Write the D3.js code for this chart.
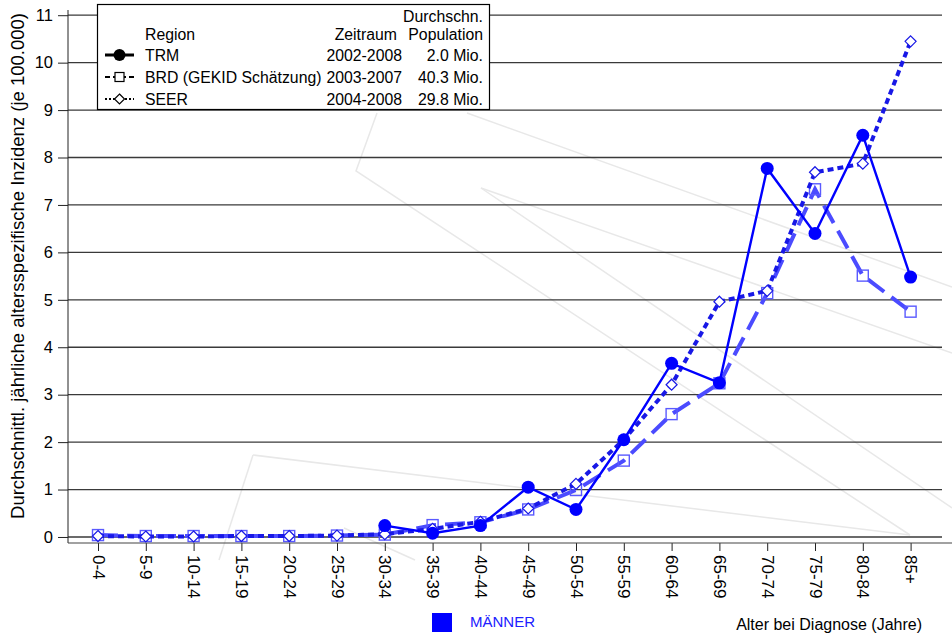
<!DOCTYPE html>
<html>
<head>
<meta charset="utf-8">
<script src="https://cdn.jsdelivr.net/npm/d3@7/dist/d3.min.js"></script>
<style>
  html, body { margin: 0; padding: 0; background: #fff; }
  svg { display: block; font-family: "Liberation Sans", Arial, sans-serif; }
</style>
</head>
<body>
<svg id="chart" width="952" height="636"></svg>
<script>
// Age groups at diagnosis
const ageGroups = ["0-4","5-9","10-14","15-19","20-24","25-29","30-34","35-39","40-44",
                   "45-49","50-54","55-59","60-64","65-69","70-74","75-79","80-84","85+"];

// Average annual age-specific incidence per 100,000 (men)
const trmRates  = [null,null,null,null,null,null,0.24,0.08,0.24,1.05,0.58,2.05,3.66,3.25,7.77,6.40,8.47,5.48];
const brdRates  = [0.04,0.02,0.02,0.02,0.02,0.03,0.05,0.25,0.31,0.58,0.99,1.61,2.59,3.24,5.14,7.33,5.51,4.75];
const seerRates = [0.02,0.01,0.01,0.02,0.02,0.03,0.06,0.17,0.32,0.60,1.12,2.05,3.21,4.96,5.19,7.69,7.87,10.45];

// Legend rows
const legendRegions = ["TRM", "BRD (GEKID Schätzung)", "SEER"];
const legendPeriods = ["2002-2008", "2003-2007", "2004-2008"];
const legendPops    = ["2.0 Mio.", "40.3 Mio.", "29.8 Mio."];

const yTicks = [0,1,2,3,4,5,6,7,8,9,10,11];

const svg = d3.select("#chart");

const x = d3.scalePoint().domain(ageGroups).range([98, 910.6]);
const y = d3.scaleLinear().domain([-0.127, 11.11]).range([543, 10]);

// faint background emblem strokes
const emblem = [
  [[377,113],[356,171],[910,535]],
  [[253,455],[910,535]],
  [[253,455],[219,560]],
  [[344,528],[415,560]],
  [[467,113],[952,287]],
  [[481,188],[952,353]],
  [[481,188],[952,508]]
];
svg.append("g").selectAll("path").data(emblem).join("path")
  .attr("d", d3.line())
  .attr("fill", "none")
  .attr("stroke", "#e8e8e8")
  .attr("stroke-width", 1.5);

// horizontal grid lines
svg.append("g").selectAll("line").data(yTicks).join("line")
  .attr("x1", 68).attr("x2", 942)
  .attr("y1", d => y(d)).attr("y2", d => y(d))
  .attr("stroke", "#3a3a3a").attr("stroke-width", 1.3);

// y axis
const yAxis = svg.append("g").attr("transform", "translate(68,0)")
  .call(d3.axisLeft(y).tickValues(yTicks).tickSize(10).tickPadding(5).tickFormat(d3.format("d")));
yAxis.select(".domain").remove();
yAxis.selectAll(".tick line").attr("stroke", "#222");
yAxis.selectAll("text").attr("font-size", 16.5).attr("fill", "#000")
  .attr("font-family", "Liberation Sans, Arial, sans-serif");
svg.append("line").attr("x1", 68).attr("x2", 68).attr("y1", 10).attr("y2", 543)
  .attr("stroke", "#222").attr("stroke-width", 1);

// x axis
const xAxis = svg.append("g").attr("transform", "translate(0,543)")
  .call(d3.axisBottom(x).tickSize(8).tickSizeOuter(0));
xAxis.select(".domain").remove();
xAxis.selectAll(".tick line").attr("stroke", "#222");
xAxis.selectAll("text")
  .attr("font-size", 17).attr("fill", "#000")
  .attr("font-family", "Liberation Sans, Arial, sans-serif")
  .attr("transform", "rotate(90)")
  .attr("x", 12).attr("y", 0).attr("dy", "0.35em")
  .style("text-anchor", "start");
svg.append("line").attr("x1", 68).attr("x2", 952).attr("y1", 543).attr("y2", 543)
  .attr("stroke", "#444").attr("stroke-width", 1.2);

// axis titles
svg.append("text")
  .attr("transform", "translate(24,266) rotate(-90)")
  .attr("text-anchor", "middle").attr("font-size", 18.5).attr("fill", "#000")
  .text("Durchschnittl. jährliche altersspezifische Inzidenz (je 100.000)");
svg.append("text").attr("x", 922).attr("y", 630).attr("text-anchor", "end")
  .attr("font-size", 16).attr("fill", "#000").text("Alter bei Diagnose (Jahre)");

// sex label
svg.append("rect").attr("x", 432).attr("y", 613).attr("width", 20).attr("height", 19).attr("fill", "#0000ff");
svg.append("text").attr("x", 470).attr("y", 627).attr("font-size", 15).attr("fill", "#2020ff").text("MÄNNER");

// series
const line = d3.line()
  .defined(d => d.v !== null)
  .x(d => x(d.a)).y(d => y(d.v));
const pts = arr => ageGroups.map((a, i) => ({a, v: arr[i]}));

const series = [
  {data: pts(brdRates),  color: "#4b4bff", width: 4,   dash: "20,9", marker: "square"},
  {data: pts(seerRates), color: "#1818e6", width: 4,   dash: "6,4",  marker: "diamond"},
  {data: pts(trmRates),  color: "#0000ff", width: 2.4, dash: null,   marker: "circle"}
];

const g = svg.append("g");
series.forEach(s => {
  g.append("path").datum(s.data)
    .attr("d", line).attr("fill", "none")
    .attr("stroke", s.color).attr("stroke-width", s.width)
    .attr("stroke-dasharray", s.dash);
  const valid = s.data.filter(d => d.v !== null);
  if (s.marker === "circle") {
    g.selectAll(null).data(valid).join("circle")
      .attr("cx", d => x(d.a)).attr("cy", d => y(d.v)).attr("r", 6.5)
      .attr("fill", s.color);
  } else if (s.marker === "square") {
    g.selectAll(null).data(valid).join("rect")
      .attr("x", d => x(d.a) - 5.5).attr("y", d => y(d.v) - 5.5)
      .attr("width", 11).attr("height", 11)
      .attr("fill", "none").attr("stroke", "#5a5aff").attr("stroke-width", 1.4);
  } else {
    g.selectAll(null).data(valid).join("path")
      .attr("d", d => {
        const cx = x(d.a), cy = y(d.v), r = 5.5;
        return `M${cx},${cy - r}L${cx + r},${cy}L${cx},${cy + r}L${cx - r},${cy}Z`;
      })
      .attr("fill", "#fff").attr("stroke", "#1818e6").attr("stroke-width", 1.2);
  }
});

// legend
const lg = svg.append("g");
lg.append("rect").attr("x", 97.5).attr("y", 4.5).attr("width", 392).attr("height", 105)
  .attr("fill", "#fff").attr("stroke", "#000").attr("stroke-width", 1.2);
const fs = 15.8;
lg.append("text").attr("x", 483).attr("y", 22).attr("text-anchor", "end").attr("font-size", fs).text("Durchschn.");
lg.append("text").attr("x", 145).attr("y", 40).attr("font-size", fs).text("Region");
lg.append("text").attr("x", 397).attr("y", 40).attr("text-anchor", "end").attr("font-size", fs).text("Zeitraum");
lg.append("text").attr("x", 483).attr("y", 40).attr("text-anchor", "end").attr("font-size", fs).text("Population");
const rowY = [61, 83, 105];
legendRegions.forEach((r, i) => {
  lg.append("text").attr("x", 145).attr("y", rowY[i]).attr("font-size", fs).text(r);
  lg.append("text").attr("x", 402).attr("y", rowY[i]).attr("text-anchor", "end").attr("font-size", fs).text(legendPeriods[i]);
  lg.append("text").attr("x", 483).attr("y", rowY[i]).attr("text-anchor", "end").attr("font-size", fs).text(legendPops[i]);
});
const sy = rowY.map(v => v - 6);
// TRM symbol
lg.append("line").attr("x1", 105).attr("x2", 134).attr("y1", sy[0]).attr("y2", sy[0]).attr("stroke", "#000").attr("stroke-width", 3);
lg.append("circle").attr("cx", 119.5).attr("cy", sy[0]).attr("r", 6).attr("fill", "#000");
// BRD symbol
lg.append("line").attr("x1", 105).attr("x2", 134).attr("y1", sy[1]).attr("y2", sy[1]).attr("stroke", "#000").attr("stroke-width", 2).attr("stroke-dasharray", "5,3,13,3,5");
lg.append("rect").attr("x", 115).attr("y", sy[1] - 4.5).attr("width", 9).attr("height", 9).attr("fill", "#fff").attr("stroke", "#000").attr("stroke-width", 1.2);
// SEER symbol
lg.append("line").attr("x1", 105).attr("x2", 134).attr("y1", sy[2]).attr("y2", sy[2]).attr("stroke", "#000").attr("stroke-width", 2).attr("stroke-dasharray", "2,2");
lg.append("path").attr("d", `M119.5,${sy[2] - 5}L124.5,${sy[2]}L119.5,${sy[2] + 5}L114.5,${sy[2]}Z`).attr("fill", "#fff").attr("stroke", "#000").attr("stroke-width", 1.2);
</script>
</body>
</html>
